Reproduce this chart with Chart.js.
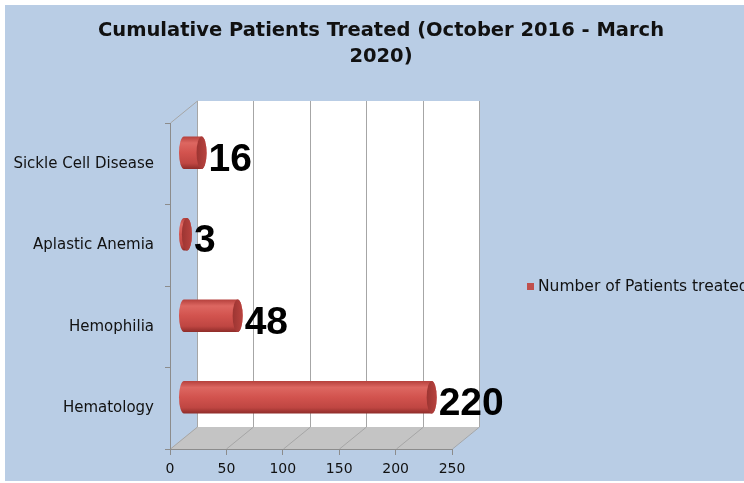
<!DOCTYPE html>
<html>
<head>
<meta charset="utf-8">
<script src="https://cdn.jsdelivr.net/npm/chart.js@4/dist/chart.umd.min.js"></script>
<style>
  html, body { margin: 0; padding: 0; background: #fff; }
  canvas { display: block; }
</style>
</head>
<body>
<canvas id="grafico" width="744" height="483"></canvas>
<script>
// dados do gráfico
const categorias = ['Sickle Cell Disease', 'Aplastic Anemia', 'Hemophilia', 'Hematology'];
const pacientes = [16, 3, 48, 220];
const nomeSerie = 'Number of Patients treated';
const titulo = ['Cumulative Patients Treated (October 2016 - March', '2020)'];
const ticksX = [0, 50, 100, 150, 200, 250];

// profundidade do efeito 3D
const DX = 27, DY = 22;
const FONTE = '"DejaVu Sans", Verdana, sans-serif';

// fundo, parede do fundo e piso
const fundo3d = {
  id: 'fundo3d',
  beforeDraw(chart) {
    const ctx = chart.ctx;
    const area = chart.chartArea;
    const x = chart.scales.x;
    ctx.save();
    ctx.fillStyle = '#ffffff';
    ctx.fillRect(0, 0, chart.width, chart.height);
    ctx.fillStyle = '#b9cde5';
    ctx.fillRect(5, 5, chart.width - 5, chart.height - 7);

    // parede do fundo
    ctx.fillStyle = '#ffffff';
    ctx.fillRect(area.left + DX, area.top - DY, area.right - area.left, area.bottom - area.top);

    // piso
    ctx.fillStyle = '#c4c4c4';
    ctx.beginPath();
    ctx.moveTo(area.left, area.bottom);
    ctx.lineTo(area.right, area.bottom);
    ctx.lineTo(area.right + DX, area.bottom - DY);
    ctx.lineTo(area.left + DX, area.bottom - DY);
    ctx.closePath();
    ctx.fill();

    // linhas de grade na parede e no piso
    ctx.strokeStyle = '#a6a6a6';
    ctx.lineWidth = 1;
    ticksX.forEach(v => {
      const px = Math.round(x.getPixelForValue(v)) + 0.5;
      ctx.beginPath();
      ctx.moveTo(px + DX, area.top - DY);
      ctx.lineTo(px + DX, area.bottom - DY);
      ctx.moveTo(px, area.bottom);
      ctx.lineTo(px + DX, area.bottom - DY);
      ctx.stroke();
    });
    // aresta superior esquerda
    ctx.beginPath();
    ctx.moveTo(area.left + 0.5, area.top);
    ctx.lineTo(area.left + DX + 0.5, area.top - DY);
    ctx.stroke();
    ctx.restore();
  }
};

// barras em forma de cilindro + rótulos
const cilindros = {
  id: 'cilindros',
  afterDatasetsDraw(chart) {
    const ctx = chart.ctx;
    const meta = chart.getDatasetMeta(0);
    ctx.save();
    meta.data.forEach((bar, i) => {
      const xs = bar.base + DX / 2;
      const xe = bar.x + DX / 2;
      const cy = bar.y - DY / 2;
      const h = bar.height / 2;
      const rx = 5;

      const grad = ctx.createLinearGradient(0, cy - h, 0, cy + h);
      grad.addColorStop(0, '#b5403c');
      grad.addColorStop(0.2, '#dd6761');
      grad.addColorStop(0.5, '#d2534e');
      grad.addColorStop(0.82, '#bf4642');
      grad.addColorStop(1, '#8e2c29');

      ctx.fillStyle = grad;
      ctx.beginPath();
      ctx.ellipse(xs, cy, rx, h, 0, Math.PI / 2, Math.PI * 1.5);
      ctx.lineTo(xe, cy - h);
      ctx.ellipse(xe, cy, rx, h, 0, -Math.PI / 2, Math.PI / 2);
      ctx.closePath();
      ctx.fill();

      const gcap = ctx.createLinearGradient(xe - rx, 0, xe + rx, 0);
      gcap.addColorStop(0, '#9c3532');
      gcap.addColorStop(1, '#b8433f');
      ctx.fillStyle = gcap;
      ctx.beginPath();
      ctx.ellipse(xe, cy, rx, h, 0, 0, Math.PI * 2);
      ctx.fill();

      ctx.fillStyle = '#000000';
      ctx.font = 'bold 39px "Liberation Sans", Arial, sans-serif';
      ctx.textAlign = 'left';
      ctx.textBaseline = 'alphabetic';
      ctx.fillText(String(pacientes[i]), xe + rx + 2, cy + 18);
    });
    ctx.restore();
  },
  afterDraw(chart) {
    const ctx = chart.ctx;
    ctx.save();
    // título
    ctx.fillStyle = '#111111';
    ctx.textAlign = 'center';
    ctx.textBaseline = 'middle';
    ctx.font = 'bold 19.5px ' + FONTE;
    ctx.fillText(titulo[0], 381, 31);
    ctx.fillText(titulo[1], 381, 57);
    // legenda
    ctx.fillStyle = '#c0504d';
    ctx.fillRect(527, 283, 7, 7);
    ctx.fillStyle = '#111111';
    ctx.textAlign = 'left';
    ctx.font = '15.5px ' + FONTE;
    ctx.fillText(nomeSerie, 538, 287);
    ctx.restore();
  }
};

new Chart(document.getElementById('grafico'), {
  type: 'bar',
  data: {
    labels: categorias,
    datasets: [{
      label: nomeSerie,
      data: pacientes,
      backgroundColor: 'rgba(0,0,0,0)',
      borderWidth: 0,
      categoryPercentage: 1,
      barPercentage: 0.4
    }]
  },
  options: {
    indexAxis: 'y',
    responsive: false,
    animation: false,
    devicePixelRatio: 1,
    layout: { padding: { top: 123, right: 292, left: 0, bottom: 0 } },
    plugins: {
      legend: { display: false },
      title: { display: false },
      tooltip: { enabled: false }
    },
    scales: {
      x: {
        min: 0,
        max: 250,
        afterFit(scale) { scale.height = 34; },
        afterBuildTicks(scale) { scale.ticks = ticksX.map(v => ({ value: v })); },
        grid: { drawOnChartArea: false, drawTicks: true, tickLength: 6, color: '#8c8c8c' },
        border: { display: true, color: '#8c8c8c' },
        ticks: { color: '#111111', padding: 6, font: { family: FONTE, size: 14 }, maxRotation: 0 }
      },
      y: {
        afterFit(scale) { scale.width = 170; },
        grid: { drawOnChartArea: false, drawTicks: true, tickLength: 5, color: '#8c8c8c', offset: true },
        border: { display: true, color: '#8c8c8c' },
        ticks: { color: '#111111', padding: 11, font: { family: FONTE, size: 15 } }
      }
    }
  },
  plugins: [fundo3d, cilindros]
});
</script>
</body>
</html>
